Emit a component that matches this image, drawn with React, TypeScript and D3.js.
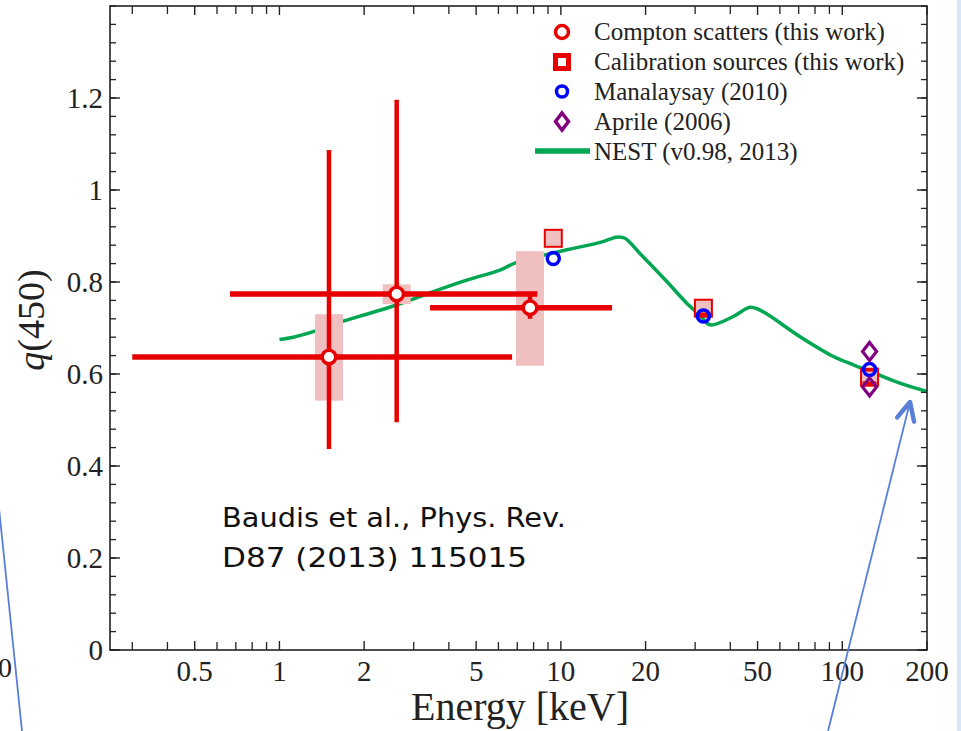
import React from 'react';
import * as d3 from 'd3';

// ---------- data ----------
const comptonE = [1.5, 2.61, 7.77];
const comptonQ = [0.637, 0.774, 0.744];
const comptonELo = [0.3, 0.667, 3.43];
const comptonEHi = [6.71, 8.25, 15.2];
const comptonQLo = [0.437, 0.495, 0.72];
const comptonQHi = [1.087, 1.196, 0.77];
const comptonSysLo = [0.542, 0.752, 0.618];
const comptonSysHi = [0.73, 0.795, 0.867];

const calibE = [9.4, 32.1, 125];
const calibQ = [0.895, 0.743, 0.593];
const calibDashE = [32.1, 125, 125];
const calibDashQ = [0.73, 0.609, 0.58];

const manaE = [9.4, 32.1, 125];
const manaQ = [0.851, 0.726, 0.61];

const aprileE = [125, 125];
const aprileQ = [0.649, 0.572];

const nestE = [1.0, 1.12, 1.32, 1.71, 2.04, 2.61, 3.52, 4.63, 6.08, 6.93, 10.5, 13.8, 15.4, 16.0, 16.9, 19.1, 23.8, 28.0, 31.2, 33.9, 41.0, 47.0, 51.0, 70.8, 93.0, 109.5, 126.6, 160.4, 200];
const nestQ = [0.675, 0.68, 0.692, 0.716, 0.73, 0.75, 0.779, 0.804, 0.826, 0.842, 0.87, 0.886, 0.896, 0.898, 0.895, 0.862, 0.801, 0.754, 0.728, 0.707, 0.725, 0.745, 0.739, 0.681, 0.638, 0.62, 0.605, 0.58, 0.562];

const xTickLabels = [0.5, 1, 2, 5, 10, 20, 50, 100, 200];
const xMinorTicks = [0.3, 0.4, 0.6, 0.7, 0.8, 0.9, 3, 4, 6, 7, 8, 9, 30, 40, 60, 70, 80, 90];
const yTickLabels = [0, 0.2, 0.4, 0.6, 0.8, 1, 1.2];
const yMinorTicks = d3.range(0, 1.401, 0.04);

const legendLabels = [
  'Compton scatters (this work)',
  'Calibration sources (this work)',
  'Manalaysay (2010)',
  'Aprile (2006)',
  'NEST (v0.98, 2013)',
];

// ---------- layout ----------
const W = 961;
const H = 731;
const L = 110, R = 927, T = 6, B = 650;
const x = d3.scaleLog().domain([0.25, 200]).range([L, R]);
const y = d3.scaleLinear().domain([0, 1.4]).range([B, T]);

const RED = '#e60000';
const PINK = '#f0c0c0';
const BLUE = '#0000ff';
const PURPLE = '#800080';
const GREEN = '#00a651';
const SERIF = '"Liberation Serif", "Times New Roman", serif';

function diamond(cx: number, cy: number, hw: number, hh: number) {
  return `M${cx},${cy - hh}L${cx + hw},${cy}L${cx},${cy + hh}L${cx - hw},${cy}Z`;
}

export default function App() {
  const nestLine = d3
    .line<number>()
    .x((_, i) => x(nestE[i]))
    .y((d) => y(d))
    .curve(d3.curveCatmullRom.alpha(0.5))(nestQ) as string;

  const fmt = (v: number) => (v === 0 ? '0' : d3.format('~g')(v));

  const arrowTip = [x(174), y(0.539)];
  const arrowTail = [x(89), y(-0.176)];
  const ang = Math.atan2(arrowTail[1] - arrowTip[1], arrowTail[0] - arrowTip[0]);
  const ah = 20;
  const a1 = [arrowTip[0] + ah * Math.cos(ang + 0.45), arrowTip[1] + ah * Math.sin(ang + 0.45)];
  const a2 = [arrowTip[0] + ah * Math.cos(ang - 0.45), arrowTip[1] + ah * Math.sin(ang - 0.45)];

  return (
    <svg
      width={W}
      height={H}
      style={{ position: 'fixed', left: 0, top: 0, background: '#fff' }}
      fontFamily={SERIF}
    >
      <rect x={0} y={0} width={W} height={H} fill="#fff" />
      <rect x={957} y={0} width={10} height={H} fill="#d8e7f7" />

      {/* NEST curve */}
      <path d={nestLine} fill="none" stroke={GREEN} strokeWidth={3.5} />

      {/* systematic boxes */}
      {comptonE.map((e, i) => (
        <rect
          key={'sys' + i}
          x={x(e) - 14}
          y={y(comptonSysHi[i])}
          width={28}
          height={y(comptonSysLo[i]) - y(comptonSysHi[i])}
          fill={PINK}
        />
      ))}

      {/* calibration squares */}
      {calibE.map((e, i) => (
        <rect
          key={'cal' + i}
          x={x(e) - 8.5}
          y={y(calibQ[i]) - 8.5}
          width={17}
          height={17}
          fill={PINK}
          stroke={RED}
          strokeWidth={2}
        />
      ))}
      {calibDashE.map((e, i) => (
        <line
          key={'cd' + i}
          x1={x(e) - 7}
          x2={x(e) + 7}
          y1={y(calibDashQ[i])}
          y2={y(calibDashQ[i])}
          stroke={RED}
          strokeWidth={3.5}
        />
      ))}

      {/* Compton error bars */}
      {comptonE.map((e, i) => (
        <g key={'err' + i}>
          <line
            x1={x(comptonELo[i])}
            x2={x(comptonEHi[i])}
            y1={y(comptonQ[i])}
            y2={y(comptonQ[i])}
            stroke={RED}
            strokeWidth={5.5}
          />
          <line
            x1={x(e)}
            x2={x(e)}
            y1={y(comptonQLo[i])}
            y2={y(comptonQHi[i])}
            stroke={RED}
            strokeWidth={4.5}
          />
        </g>
      ))}
      {comptonE.map((e, i) => (
        <circle key={'cc' + i} cx={x(e)} cy={y(comptonQ[i])} r={6.8} fill="#fff" stroke={RED} strokeWidth={3.5} />
      ))}

      {/* Manalaysay */}
      {manaE.map((e, i) => (
        <circle key={'m' + i} cx={x(e)} cy={y(manaQ[i])} r={6} fill="none" stroke={BLUE} strokeWidth={3.5} />
      ))}

      {/* Aprile */}
      {aprileE.map((e, i) => (
        <path key={'a' + i} d={diamond(x(e), y(aprileQ[i]), 7, 9)} fill="none" stroke={PURPLE} strokeWidth={3.2} />
      ))}

      {/* frame */}
      <rect x={L} y={T} width={R - L} height={B - T} fill="none" stroke="#222" strokeWidth={1.6} />

      {/* y ticks */}
      {yMinorTicks.map((v, i) => (
        <g key={'ym' + i} stroke="#222" strokeWidth={1.3}>
          <line x1={L} x2={L + 6} y1={y(v)} y2={y(v)} />
          <line x1={R} x2={R - 6} y1={y(v)} y2={y(v)} />
        </g>
      ))}
      {yTickLabels.map((v) => (
        <g key={'yl' + v}>
          <line x1={L} x2={L + 10} y1={y(v)} y2={y(v)} stroke="#222" strokeWidth={1.4} />
          <line x1={R} x2={R - 10} y1={y(v)} y2={y(v)} stroke="#222" strokeWidth={1.4} />
          <text x={103} y={y(v) + 10} textAnchor="end" fontSize={29} fill="#222">
            {fmt(v)}
          </text>
        </g>
      ))}

      {/* x ticks */}
      {xMinorTicks.map((v, i) => (
        <g key={'xm' + i} stroke="#222" strokeWidth={1.3}>
          <line x1={x(v)} x2={x(v)} y1={B} y2={B - 8} />
          <line x1={x(v)} x2={x(v)} y1={T} y2={T + 8} />
        </g>
      ))}
      {xTickLabels.map((v) => (
        <g key={'xl' + v}>
          <line x1={x(v)} x2={x(v)} y1={B} y2={B - 9} stroke="#222" strokeWidth={1.4} />
          <line x1={x(v)} x2={x(v)} y1={T} y2={T + 9} stroke="#222" strokeWidth={1.4} />
          <text x={x(v)} y={681} textAnchor="middle" fontSize={29} fill="#222">
            {fmt(v)}
          </text>
        </g>
      ))}

      {/* axis titles */}
      <text x={520} y={720} textAnchor="middle" fontSize={40} fill="#222">
        Energy [keV]
      </text>
      <text transform={`translate(44,320) rotate(-90)`} textAnchor="middle" fontSize={38} fill="#222">
        <tspan fontStyle="italic">q</tspan>
        <tspan>(450)</tspan>
      </text>

      {/* legend */}
      <g>
        <circle cx={562} cy={32} r={6.5} fill="#fff" stroke={RED} strokeWidth={3.5} />
        <rect x={555.5} y={55.5} width={13} height={13} fill="#fff" stroke={RED} strokeWidth={5} />
        <circle cx={562} cy={91.5} r={5.5} fill="none" stroke={BLUE} strokeWidth={3.5} />
        <path d={diamond(562, 121.5, 6.5, 8.5)} fill="none" stroke={PURPLE} strokeWidth={3.5} />
        <line x1={535} x2={590} y1={151} y2={151} stroke={GREEN} strokeWidth={5.5} />
        {legendLabels.map((t, i) => (
          <text key={t} x={594} y={39.5 + 30 * i} fontSize={25} fill="#222">
            {t}
          </text>
        ))}
      </g>

      {/* annotation */}
      <g fontFamily='"DejaVu Sans", sans-serif' fontSize={26} fill="#111">
        <text x={222} y={527} textLength={344} lengthAdjust="spacingAndGlyphs">
          Baudis et al., Phys. Rev.
        </text>
        <text x={222} y={567} textLength={305} lengthAdjust="spacingAndGlyphs">
          D87 (2013) 115015
        </text>
      </g>

      {/* partial label at left edge */}
      <text x={12} y={677} textAnchor="end" fontSize={28} fill="#222">
        0
      </text>

      {/* blue annotation arrows */}
      <line x1={-1} y1={508} x2={22} y2={731} stroke="#5a7fd8" strokeWidth={1.8} />
      <line x1={arrowTail[0]} y1={arrowTail[1]} x2={arrowTip[0]} y2={arrowTip[1]} stroke="#5a7fd8" strokeWidth={1.8} />
      <polyline
        points={`${a1[0]},${a1[1]} ${arrowTip[0]},${arrowTip[1]} ${a2[0]},${a2[1]}`}
        fill="none"
        stroke="#5a7fd8"
        strokeWidth={4.5}
        strokeLinecap="round"
        strokeLinejoin="round"
      />
    </svg>
  );
}
